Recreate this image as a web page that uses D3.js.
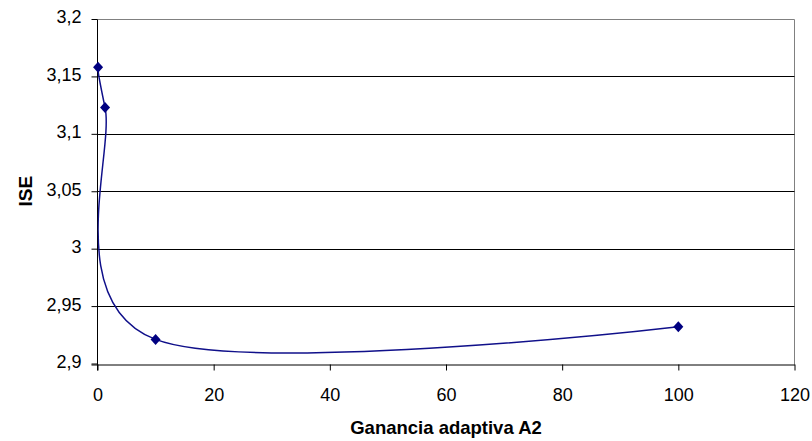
<!DOCTYPE html>
<html>
<head>
<meta charset="utf-8">
<script src="https://cdn.jsdelivr.net/npm/d3@7"></script>
<style>
  html, body { margin: 0; padding: 0; background: #ffffff; }
  svg { display: block; }
  text { font-family: "Liberation Sans", Arial, sans-serif; }
</style>
</head>
<body>
<svg id="chart" width="812" height="441"></svg>
<script>
// ---- data ----
const gainValues = [0.1, 1.3, 10, 100];          // Ganancia adaptiva A2
const iseValues  = [3.158, 3.123, 2.921, 2.932];   // ISE
const xTicks = [0, 20, 40, 60, 80, 100, 120];
const yTicks = [2.9, 2.95, 3.0, 3.05, 3.1, 3.15, 3.2];
const xTitle = "Ganancia adaptiva A2";
const yTitle = "ISE";

// ---- layout ----
const W = 812, H = 441;
const plot = { left: 97.5, right: 794.5, top: 19, bottom: 363.5 };

const svg = d3.select("#chart");
const x = d3.scaleLinear().domain([0, 120]).range([plot.left, plot.right]);
const y = d3.scaleLinear().domain([2.9, 3.2]).range([plot.bottom, plot.top]);
const fmt = v => d3.format("~g")(v).replace(".", ",");
const snap = v => Math.round(v) + 0.5;

svg.append("rect").attr("width", W).attr("height", H).attr("fill", "#fff");

// plot-area border (right) and gridlines
svg.append("line")
  .attr("x1", snap(x(120)) - 1).attr("x2", snap(x(120)) - 1)
  .attr("y1", snap(y(3.2))).attr("y2", snap(y(2.9)))
  .attr("stroke", "#808080").attr("stroke-width", 1);

svg.append("g").selectAll("line").data(yTicks.filter(d => d > 2.9)).join("line")
  .attr("x1", plot.left).attr("x2", snap(x(120)) - 1)
  .attr("y1", d => snap(y(d))).attr("y2", d => snap(y(d)))
  .attr("stroke", d => d === 3.2 ? "#808080" : "#000")
  .attr("stroke-width", 1);

// axes
const xAxis = d3.axisBottom(x).tickValues(xTicks).tickSize(6).tickFormat(fmt);
const yAxis = d3.axisLeft(y).tickValues(yTicks).tickSize(6).tickFormat(fmt);

const gx = svg.append("g").attr("transform", `translate(0,${snap(y(2.9))})`).call(xAxis);
gx.select(".domain").attr("d", `M${plot.left - 6},0.5H${snap(x(120)) - 0.5}`).attr("stroke", "#000");
gx.selectAll(".tick line").attr("stroke", "#000").attr("transform", "translate(0,0)");
gx.selectAll(".tick text")
  .attr("font-size", 18).attr("fill", "#000")
  .attr("y", 36).attr("dy", null);

const gy = svg.append("g").attr("transform", `translate(${snap(plot.left) - 1},0)`).call(yAxis);
gy.select(".domain").attr("d", `M0,${snap(y(3.2))}V${snap(y(2.9)) + 6}`).attr("stroke", "#000");
gy.selectAll(".tick line").attr("stroke", "#000");
gy.selectAll(".tick text")
  .attr("font-size", 18).attr("fill", "#000")
  .attr("x", -16).attr("dy", "0.22em");

// clip for the smoothed line
svg.append("clipPath").attr("id", "clip")
  .append("rect").attr("x", plot.left).attr("y", plot.top)
  .attr("width", plot.right - plot.left).attr("height", plot.bottom - plot.top);

const pts = gainValues.map((g, i) => [g, iseValues[i]]);
const line = d3.line().x(d => x(d[0])).y(d => y(d[1])).curve(d3.curveCardinal.tension(0));

svg.append("path")
  .attr("clip-path", "url(#clip)")
  .attr("d", line(pts))
  .attr("fill", "none")
  .attr("stroke", "#10108a")
  .attr("stroke-width", 1.5);

// diamond markers
const diamond = {
  draw(ctx, size) {
    const r = Math.sqrt(size) / 2;
    ctx.moveTo(0, -r * 1.1);
    ctx.lineTo(r, 0);
    ctx.lineTo(0, r * 1.1);
    ctx.lineTo(-r, 0);
    ctx.closePath();
  }
};
svg.append("g").selectAll("path").data(pts).join("path")
  .attr("transform", d => `translate(${x(d[0])},${y(d[1])})`)
  .attr("d", d3.symbol().type(diamond).size(100))
  .attr("fill", "#000080");

// titles
svg.append("text")
  .attr("x", (plot.left + plot.right) / 2).attr("y", 434)
  .attr("text-anchor", "middle")
  .attr("font-size", 18.5).attr("font-weight", "bold")
  .text(xTitle);

svg.append("text")
  .attr("transform", `translate(32,${(plot.top + plot.bottom) / 2}) rotate(-90)`)
  .attr("text-anchor", "middle")
  .attr("font-size", 19).attr("font-weight", "bold")
  .text(yTitle);
</script>
</body>
</html>
